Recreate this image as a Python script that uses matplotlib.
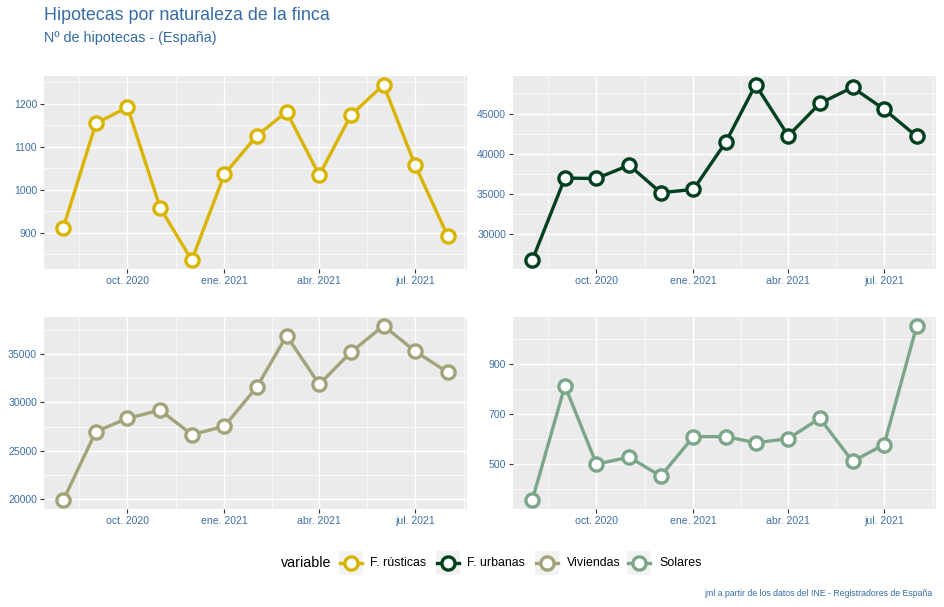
import matplotlib
matplotlib.use("Agg")
import matplotlib.pyplot as plt
import matplotlib.dates as mdates
from matplotlib.patches import Rectangle
from matplotlib.lines import Line2D
import numpy as np
import datetime as dt

plt.rcParams['font.family'] = ['Liberation Sans', 'DejaVu Sans']

# ---- data ----
months = ["2020-08-01", "2020-09-01", "2020-10-01", "2020-11-01", "2020-12-01",
          "2021-01-01", "2021-02-01", "2021-03-01", "2021-04-01", "2021-05-01",
          "2021-06-01", "2021-07-01", "2021-08-01"]
series_names = ["F. rústicas", "F. urbanas", "Viviendas", "Solares"]
rusticas = [911, 1154, 1192, 958, 836, 1036, 1126, 1181, 1034, 1173, 1244, 1057, 892]
urbanas = [26750, 36970, 36920, 38580, 35150, 35560, 41500, 48580, 42230, 46270, 48250, 45530, 42150]
viviendas = [19870, 26990, 28350, 29210, 26680, 27530, 31640, 36920, 31880, 35200, 37950, 35310, 33120]
solares = [355, 814, 500, 528, 452, 610, 610, 586, 602, 684, 511, 578, 1055]
series_values = [rusticas, urbanas, viviendas, solares]
colors = ["#d9b400", "#00401f", "#a3a37a", "#7ba689"]

xtick_dates = ["2020-10-01", "2021-01-01", "2021-04-01", "2021-07-01"]
xtick_labels = ["oct. 2020", "ene. 2021", "abr. 2021", "jul. 2021"]
xminor_dates = ["2020-08-16", "2020-11-16", "2021-02-15", "2021-05-16", "2021-08-16"]
yticks = [[900, 1000, 1100, 1200], [30000, 35000, 40000, 45000],
          [20000, 25000, 30000, 35000], [500, 700, 900]]
yminor = [[850, 950, 1050, 1150, 1250], [27500, 32500, 37500, 42500, 47500],
          [22500, 27500, 32500, 37500], [400, 600, 800, 1000]]

title = "Hipotecas por naturaleza de la finca"
subtitle = "Nº de hipotecas - (España)"
caption = "jml a partir de los datos del INE - Registradores de España"
legend_title = "variable"

# ---- figure ----
W, H = 944, 607
fig = plt.figure(figsize=(W / 100, H / 100), dpi=100)

def px_axes(x0, y0, x1, y1):
    return fig.add_axes([x0 / W, 1 - y1 / H, (x1 - x0) / W, (y1 - y0) / H])

boxes = [(44, 76, 467, 269), (513, 76, 936, 269), (44, 317, 467, 509), (513, 317, 936, 509)]
dates = [dt.datetime.strptime(d, "%Y-%m-%d") for d in months]
xnum = mdates.date2num(dates)
tick_blue = "#3f6fa6"

for i, (box, vals, col) in enumerate(zip(boxes, series_values, colors)):
    ax = px_axes(*box)
    ax.set_facecolor("#ebebeb")
    for s in ax.spines.values():
        s.set_visible(False)
    xr = xnum.max() - xnum.min()
    ax.set_xlim(xnum.min() - 0.05 * xr, xnum.max() + 0.05 * xr)
    v = np.array(vals, dtype=float)
    yr = v.max() - v.min()
    ax.set_ylim(v.min() - 0.05 * yr, v.max() + 0.05 * yr)
    ax.set_xticks(mdates.date2num([dt.datetime.strptime(d, "%Y-%m-%d") for d in xtick_dates]))
    ax.set_xticklabels(xtick_labels)
    ax.set_xticks(mdates.date2num([dt.datetime.strptime(d, "%Y-%m-%d") for d in xminor_dates]), minor=True)
    ax.set_yticks(yticks[i])
    ax.set_yticklabels([str(t) for t in yticks[i]])
    ax.set_yticks(yminor[i], minor=True)
    ax.grid(True, which="major", color="white", linewidth=1.05)
    ax.grid(True, which="minor", color="white", linewidth=0.5)
    ax.set_axisbelow(True)
    ax.tick_params(which="major", length=3, width=0.8, color="#333333",
                   labelsize=7.6, labelcolor=tick_blue, pad=2)
    ax.tick_params(which="minor", length=0)
    ax.plot(xnum, vals, color=col, linewidth=2.4, marker="o", markersize=9.5,
            markerfacecolor="white", markeredgecolor=col, markeredgewidth=2.4,
            solid_capstyle="butt", zorder=3, clip_on=False)

# titles
title_blue = "#356ca6"
fig.text(44 / W, 1 - 15 / H, title, fontsize=12.9, color=title_blue, va="center", ha="left")
fig.text(44 / W, 1 - 38 / H, subtitle, fontsize=10.4, color=title_blue, va="center", ha="left")

# legend (manual, ggplot style)
ly = 563
fig.text(281 / W, 1 - ly / H, legend_title, fontsize=10.3, color="black", va="center", ha="left")
key_x = [339, 436, 535, 627]
lab_x = [370, 467, 567, 659]
kw = 24
for kx, lx, name, col in zip(key_x, lab_x, series_names, colors):
    fig.add_artist(Rectangle((kx / W, 1 - (ly + kw / 2) / H), kw / W, kw / H,
                             transform=fig.transFigure, facecolor="#f2f2f2", edgecolor="none"))
    cx = (kx + kw / 2) / W
    fig.add_artist(Line2D([(kx + 1) / W, (kx + kw - 1) / W], [1 - ly / H, 1 - ly / H],
                          transform=fig.transFigure, color=col, linewidth=2.4))
    fig.add_artist(Line2D([cx], [1 - ly / H], transform=fig.transFigure, marker="o",
                          markersize=9.5, markerfacecolor="white", markeredgecolor=col,
                          markeredgewidth=2.4, linestyle="none"))
    fig.text(lx / W, 1 - ly / H, name, fontsize=8.9, color="black", va="center", ha="left")

fig.text(932 / W, 1 - 593 / H, caption, fontsize=6.3, color=title_blue, va="center", ha="right")

fig.savefig("out.png", dpi=100)
